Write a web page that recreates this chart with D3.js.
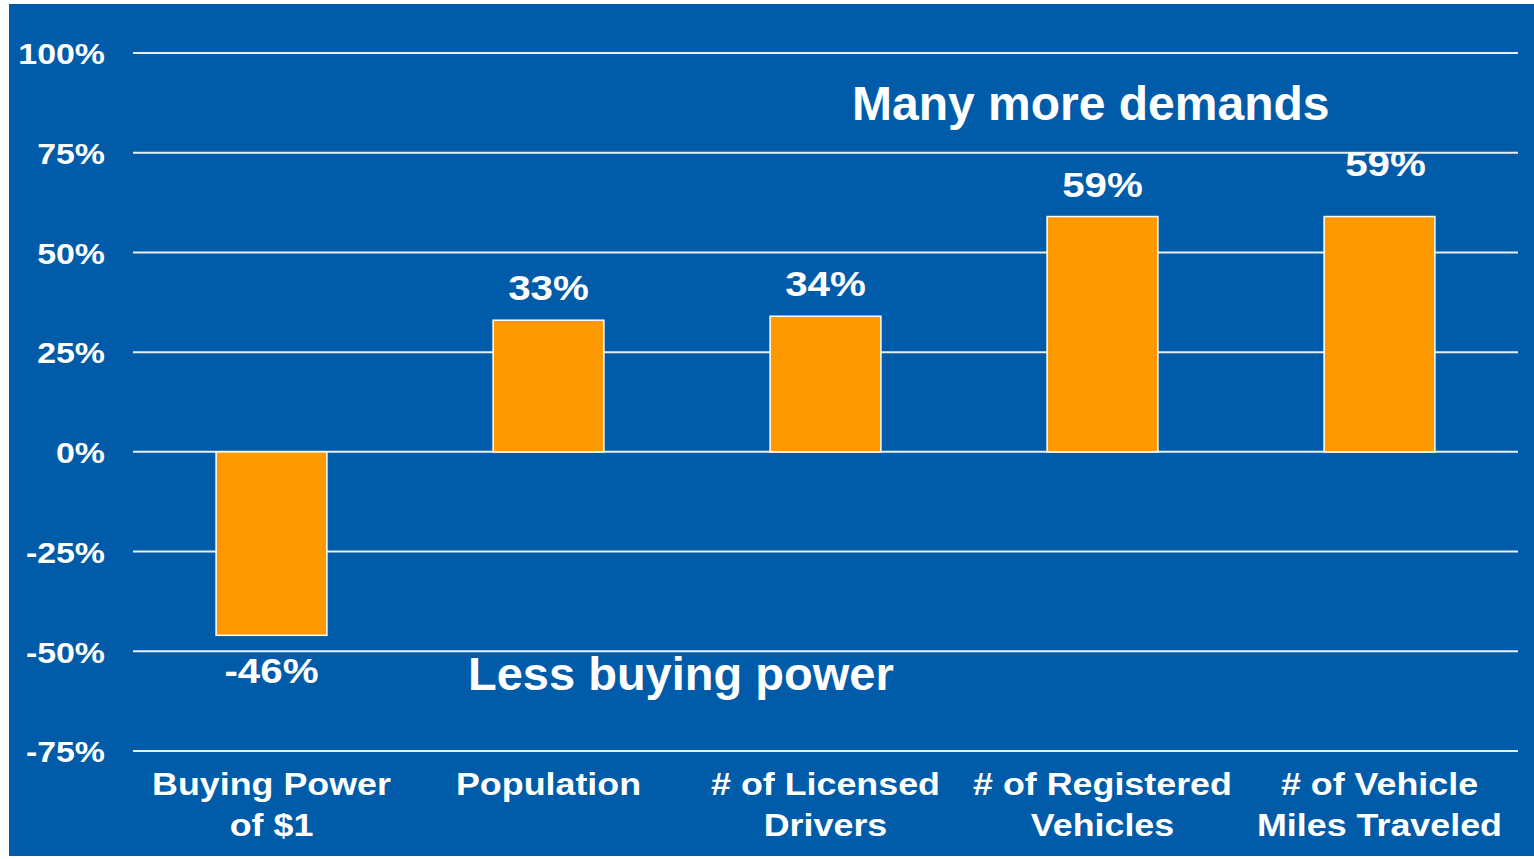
<!DOCTYPE html>
<html>
<head>
<meta charset="utf-8">
<script src="https://cdn.jsdelivr.net/npm/d3@7"></script>
<style>
  html, body { margin: 0; padding: 0; background: #fff; }
  svg text { font-family: "Liberation Sans", Arial, sans-serif; font-weight: bold; fill: #fff; }
</style>
</head>
<body>
<svg id="paper"></svg>
<script>
(function () {
    var categories = [["Buying Power", "of $1"], ["Population"], ["# of Licensed", "Drivers"],
                      ["# of Registered", "Vehicles"], ["# of Vehicle", "Miles Traveled"]];
    var values = [-46, 33, 34, 59, 59];
    var ticks = [-75, -50, -25, 0, 25, 50, 75, 100];
    var notes = ["Many more demands", "Less buying power"];

    var width = 1534,
        height = 859;

    var svg = d3.select('#paper')
        .attr('width', width)
        .attr('height', height);

    svg.append("rect")
        .attr("x", 9).attr("y", 4)
        .attr("width", width - 9).attr("height", 852)
        .attr("fill", "#005ca9");

    var x = d3.scaleBand()
        .domain(d3.range(values.length))
        .range([133, 1518])
        .paddingInner(0.6)
        .paddingOuter(0.3);

    var y = d3.scaleLinear()
        .domain([-75, 100])
        .range([751, 53]);

    // tick labels, stretched a bit wider like the original
    var yAxis = svg.append("g")
        .call(d3.axisLeft(y).tickValues(ticks)
            .tickSize(0)
            .tickFormat(function (d) { return d + "%"; }));
    yAxis.select(".domain").remove();
    yAxis.selectAll("text")
        .attr("x", 0)
        .attr("dy", "0.36em")
        .attr("transform", "translate(105,0) scale(1.13,1)")
        .style("font-size", "30px")
        .attr("fill", "#fff");

    svg.append("g").selectAll("line")
        .data(ticks)
        .enter().append("line")
        .attr("x1", 133).attr("x2", 1518)
        .attr("y1", function (d) { return y(d); })
        .attr("y2", function (d) { return y(d); })
        .attr("stroke", "#e8eef6")
        .attr("stroke-width", 2);

    svg.append("g").selectAll("rect")
        .data(values)
        .enter().append("rect")
        .attr("x", function (d, i) { return x(i); })
        .attr("width", x.bandwidth())
        .attr("y", function (d) { return y(Math.max(0, d)); })
        .attr("height", function (d) { return Math.abs(y(d) - y(0)); })
        .attr("fill", "#ff9900")
        .attr("stroke", "#fff")
        .attr("stroke-width", 1.5);

    svg.append("g").selectAll("text")
        .data(values)
        .enter().append("text")
        .attr("text-anchor", "middle")
        .attr("transform", function (d, i) {
            var cx = x(i) + x.bandwidth() / 2 + (i === 4 ? 6 : 0);
            var ty = d < 0 ? y(d) + 48 : y(d) - (i === 4 ? 41 : 20);
            return "translate(" + cx + "," + ty + ") scale(1.12,1)";
        })
        .style("font-size", "36px")
        .text(function (d) { return d + "%"; });

    var cat = svg.append("g").selectAll("text")
        .data(categories)
        .enter().append("text")
        .attr("text-anchor", "middle")
        .attr("transform", function (d, i) {
            return "translate(" + (x(i) + x.bandwidth() / 2) + ",795) scale(1.12,1)";
        })
        .style("font-size", "32px");
    cat.selectAll("tspan")
        .data(function (d) { return d; })
        .enter().append("tspan")
        .attr("x", 0)
        .attr("y", function (d, j) { return j * 41; })
        .text(function (d) { return d; });

    svg.append("text")
        .attr("x", 852).attr("y", 120)
        .style("font-size", "48px")
        .text(notes[0]);
    svg.append("text")
        .attr("x", 468).attr("y", 690)
        .style("font-size", "47px")
        .text(notes[1]);
})();
</script>
</body>
</html>
